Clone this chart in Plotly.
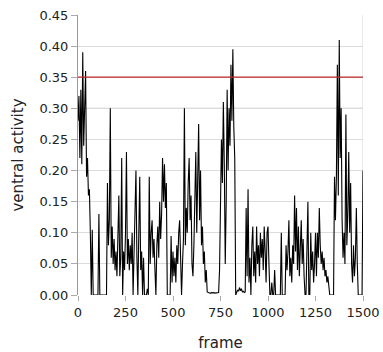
import plotly.graph_objects as go

frame_step = 5
activity = [
    0.28, 0.32, 0.22, 0.33, 0.21, 0.39, 0.24, 0.30, 0.36, 0.19,
    0.22, 0.16, 0.17, 0.10, 0.00, 0.105, 0.00, 0.00, 0.00, 0.00,
    0.00, 0.00, 0.13, 0.00, 0.00, 0.00, 0.00, 0.00, 0.00, 0.00,
    0.00, 0.18, 0.08, 0.12, 0.30, 0.06, 0.11, 0.05, 0.09, 0.04,
    0.07, 0.03, 0.08, 0.16, 0.03, 0.06, 0.22, 0.00, 0.07, 0.04,
    0.10, 0.23, 0.05, 0.09, 0.04, 0.08, 0.05, 0.10, 0.00, 0.07,
    0.12, 0.20, 0.06, 0.00, 0.10, 0.19, 0.04, 0.07, 0.00, 0.06,
    0.00, 0.00, 0.00, 0.01, 0.00, 0.19, 0.05, 0.10, 0.12, 0.06,
    0.09, 0.04, 0.00, 0.08, 0.11, 0.06, 0.15, 0.09, 0.13, 0.22,
    0.15, 0.21, 0.14, 0.18, 0.00, 0.00, 0.00, 0.00, 0.095, 0.02,
    0.07, 0.03, 0.06, 0.02, 0.08, 0.05, 0.10, 0.12, 0.06, 0.00,
    0.05, 0.09, 0.30, 0.08, 0.14, 0.10, 0.18, 0.22, 0.12, 0.16,
    0.05, 0.03, 0.08, 0.14, 0.23, 0.10, 0.18, 0.275, 0.12, 0.20,
    0.08, 0.11, 0.05, 0.07, 0.02, 0.04, 0.005, 0.004, 0.004, 0.003,
    0.003, 0.004, 0.003, 0.004, 0.003, 0.003, 0.004, 0.003, 0.004, 0.04,
    0.14, 0.25, 0.18, 0.31, 0.21, 0.05, 0.15, 0.33, 0.20, 0.30,
    0.24, 0.37, 0.28, 0.395, 0.27, 0.22, 0.00, 0.005, 0.008, 0.006,
    0.012, 0.007, 0.010, 0.005, 0.006, 0.004, 0.005, 0.14, 0.03, 0.17,
    0.02, 0.06, 0.00, 0.08, 0.11, 0.03, 0.07, 0.02, 0.11, 0.05,
    0.08, 0.03, 0.10, 0.06, 0.09, 0.04, 0.11, 0.07, 0.02, 0.10,
    0.11, 0.05, 0.00, 0.00, 0.02, 0.00, 0.00, 0.04, 0.00, 0.00,
    0.00, 0.00, 0.00, 0.00, 0.10, 0.00, 0.00, 0.00, 0.00, 0.08,
    0.04, 0.07, 0.12, 0.03, 0.06, 0.02, 0.08, 0.05, 0.16, 0.07,
    0.14, 0.04, 0.11, 0.03, 0.08, 0.12, 0.05, 0.09, 0.03, 0.00,
    0.00, 0.10, 0.15, 0.00, 0.00, 0.10, 0.04, 0.07, 0.02, 0.05,
    0.10, 0.03, 0.10, 0.06, 0.14, 0.08, 0.05, 0.07, 0.04, 0.06,
    0.03, 0.04, 0.02, 0.03, 0.01, 0.00, 0.00, 0.00, 0.00, 0.00,
    0.19, 0.12, 0.19, 0.37, 0.16, 0.41, 0.22, 0.30, 0.12, 0.06,
    0.10, 0.05, 0.29, 0.08, 0.13, 0.23, 0.10, 0.18, 0.05, 0.02,
    0.08, 0.03, 0.06, 0.14, 0.05, 0.00, 0.00, 0.00, 0.00, 0.00,
    0.20,
]
frames = [i * frame_step for i in range(len(activity))]
threshold = 0.35
x_ticks = [0, 250, 500, 750, 1000, 1250, 1500]
y_ticks = [0.00, 0.05, 0.10, 0.15, 0.20, 0.25, 0.30, 0.35, 0.40, 0.45]

font = "DejaVu Sans"
txt = "#222"

fig = go.Figure()
fig.add_trace(go.Scatter(x=frames, y=activity, mode="lines",
                         line=dict(color="black", width=1.1), showlegend=False))

fig.add_shape(type="line", xref="x", yref="y", x0=0, x1=1500, y0=threshold, y1=threshold,
              line=dict(color="#bb2a2a", width=1.2), layer="above")
fig.add_shape(type="line", xref="x", yref="y", x0=0, x1=1500, y0=0.30, y1=0.30,
              line=dict(color="#a8a8a8", width=1), layer="below")
fig.add_shape(type="line", xref="x", yref="y", x0=1500, x1=1500, y0=0, y1=0.45,
              line=dict(color="#d4d4d4", width=1), layer="below")

fig.update_layout(
    width=383, height=352,
    margin=dict(l=78, r=20, t=15, b=57),
    paper_bgcolor="white", plot_bgcolor="white",
    font=dict(family=font, size=13, color=txt),
)
fig.update_xaxes(
    range=[0, 1500], tickvals=x_ticks, ticks="outside", ticklen=5, tickcolor="#aaa",
    showgrid=False, zeroline=False, showline=False, automargin=False,
    tickfont=dict(family=font, size=13, color=txt),
    title=dict(text="frame", font=dict(family=font, size=15, color=txt), standoff=18),
)
fig.update_yaxes(
    range=[0, 0.45], tickvals=y_ticks, tickformat=".2f", ticks="outside", ticklen=6,
    tickcolor="#aaa", showgrid=True, gridcolor="#dcdcdc", gridwidth=1,
    zeroline=False, showline=True, linecolor="#999", linewidth=1, automargin=False,
    tickfont=dict(family=font, size=13, color=txt),
    title=dict(text="ventral activity", font=dict(family=font, size=15, color=txt), standoff=12),
)

fig.write_html("out.html", config={"displayModeBar": False},
               post_script="document.body.style.margin='0';document.body.style.overflow='hidden';")
